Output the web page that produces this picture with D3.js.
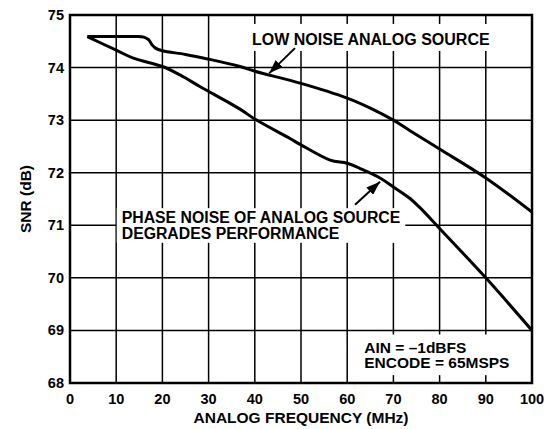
<!DOCTYPE html>
<html>
<head>
<meta charset="utf-8">
<script src="https://cdn.jsdelivr.net/npm/d3@7"></script>
<style>
  html, body { margin: 0; padding: 0; background: #fff; }
  svg { display: block; font-family: "Liberation Sans", Arial, Helvetica, sans-serif; font-weight: bold; }
</style>
</head>
<body>
<svg id="chart" width="553" height="429"></svg>
<script>
// ---- data ----
const xTicks = [0, 10, 20, 30, 40, 50, 60, 70, 80, 90, 100];
const yTicks = [68, 69, 70, 71, 72, 73, 74, 75];

const lowNoiseFreq = [3.75, 10, 14, 16, 17, 17.7, 18.5, 20, 25, 30, 36.8, 40, 50, 60, 65, 70, 73.6, 80, 90, 100];
const lowNoiseSNR  = [74.59, 74.59, 74.59, 74.58, 74.53, 74.44, 74.37, 74.32, 74.25, 74.16, 74.02, 73.93, 73.70, 73.42, 73.23, 73.00, 72.80, 72.45, 71.90, 71.25];

const phaseNoiseFreq = [3.75, 10, 13.7, 20, 23.8, 28.1, 36.8, 40, 47.6, 50, 56.3, 60, 62.8, 67.1, 70, 73.6, 75.8, 80, 90, 100];
const phaseNoiseSNR  = [74.59, 74.33, 74.18, 74.02, 73.86, 73.64, 73.21, 73.02, 72.65, 72.53, 72.24, 72.18, 72.08, 71.90, 71.73, 71.51, 71.33, 70.94, 70.00, 69.00];

const xLabel = "ANALOG FREQUENCY (MHz)";
const yLabel = "SNR (dB)";
const noteLow = ["LOW NOISE ANALOG SOURCE"];
const notePhase = ["PHASE NOISE OF ANALOG SOURCE", "DEGRADES PERFORMANCE"];
const noteCond = ["AIN = \u20131dBFS", "ENCODE = 65MSPS"];

// ---- layout ----
const svg = d3.select("#chart");
const m = { left: 70, top: 15, right: 21, bottom: 46 };
const W = 553, H = 429;
const x = d3.scaleLinear().domain([0, 100]).range([m.left, W - m.right]);
const y = d3.scaleLinear().domain([68, 75]).range([H - m.bottom, m.top]);

// gridlines
const grid = svg.append("g");
grid.selectAll("line.v").data(xTicks.slice(1, -1)).join("line")
  .attr("x1", d => x(d)).attr("x2", d => x(d))
  .attr("y1", y(68)).attr("y2", y(75))
  .attr("stroke", "#000").attr("stroke-width", 1.5);
grid.selectAll("line.h").data(yTicks.slice(1, -1)).join("line")
  .attr("x1", x(0)).attr("x2", x(100))
  .attr("y1", d => y(d)).attr("y2", d => y(d))
  .attr("stroke", "#000").attr("stroke-width", 1.5);

// annotation layer (white boxes over the grid)
const ann = svg.append("g");
function note(lines, fx, fy, pad, fs, lh) {
  const g = ann.append("g");
  const rect = g.append("rect").attr("fill", "#fff");
  const texts = lines.map((s, i) =>
    g.append("text").attr("font-size", fs).attr("fill", "#000")
      .attr("x", x(fx)).attr("y", y(fy) + i * lh).text(s));
  let x0 = Infinity, y0 = Infinity, x1 = -Infinity, y1 = -Infinity;
  texts.forEach(t => {
    const b = t.node().getBBox();
    x0 = Math.min(x0, b.x); y0 = Math.min(y0, b.y);
    x1 = Math.max(x1, b.x + b.width); y1 = Math.max(y1, b.y + b.height);
  });
  rect.attr("x", x0 - pad[3]).attr("y", y0 - pad[0])
      .attr("width", x1 - x0 + pad[1] + pad[3]).attr("height", y1 - y0 + pad[0] + pad[2]);
}
note(noteLow, 39.4, 74.43, [7, 5, 3, 6], 16, 15);
note(notePhase, 11.2, 71.04, [1, 5, 1, 5], 15.8, 15.6);
note(noteCond, 63.7, 68.58, [4, 5, 4, 6], 15.5, 15.6);

// curves
const line = d3.line().x(d => x(d[0])).y(d => y(d[1])).curve(d3.curveCatmullRom.alpha(0.5));
svg.append("path").datum(d3.zip(lowNoiseFreq, lowNoiseSNR))
  .attr("d", line).attr("fill", "none").attr("stroke", "#000").attr("stroke-width", 3).attr("stroke-linejoin", "round");
svg.append("path").datum(d3.zip(phaseNoiseFreq, phaseNoiseSNR))
  .attr("d", line).attr("fill", "none").attr("stroke", "#000").attr("stroke-width", 3).attr("stroke-linejoin", "round");

// arrows
svg.append("defs").append("marker")
  .attr("id", "ah").attr("viewBox", "0 0 14 10").attr("refX", 14).attr("refY", 5)
  .attr("markerWidth", 14).attr("markerHeight", 10).attr("markerUnits", "userSpaceOnUse")
  .attr("orient", "auto")
  .append("path").attr("d", "M0,0 L14,5 L0,10 Z").attr("fill", "#000");
const arrows = [
  [[48.7, 74.37], [43.1, 73.89]],
  [[61.7, 71.39], [67.1, 71.83]]
];
svg.selectAll("line.arrow").data(arrows).join("line")
  .attr("x1", d => x(d[0][0])).attr("y1", d => y(d[0][1]))
  .attr("x2", d => x(d[1][0])).attr("y2", d => y(d[1][1]))
  .attr("stroke", "#000").attr("stroke-width", 2).attr("marker-end", "url(#ah)");

// frame
svg.append("rect").attr("x", x(0)).attr("y", y(75))
  .attr("width", x(100) - x(0)).attr("height", y(68) - y(75))
  .attr("fill", "none").attr("stroke", "#000").attr("stroke-width", 2.5);

// axes labels
svg.append("g").selectAll("text").data(xTicks).join("text")
  .attr("x", d => x(d)).attr("y", y(68) + 20.5)
  .attr("text-anchor", "middle").attr("font-size", 14.5).text(d => d);
svg.append("g").selectAll("text").data(yTicks).join("text")
  .attr("x", x(0) - 6).attr("y", d => y(d) + 5)
  .attr("text-anchor", "end").attr("font-size", 14.5).text(d => d);

svg.append("text").attr("x", (x(0) + x(100)) / 2).attr("y", 423)
  .attr("text-anchor", "middle").attr("font-size", 15.5).text(xLabel);
svg.append("text").attr("transform", `translate(31,${(y(68) + y(75)) / 2}) rotate(-90)`)
  .attr("text-anchor", "middle").attr("font-size", 15.5).text(yLabel);
</script>
</body>
</html>
